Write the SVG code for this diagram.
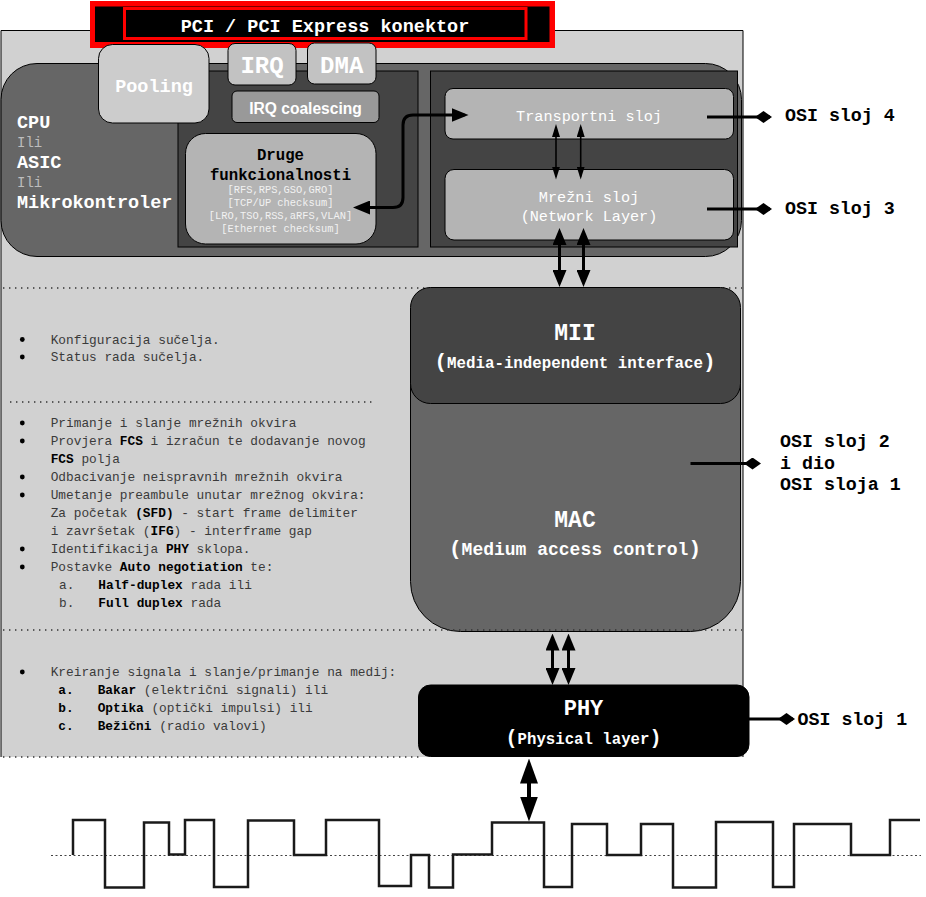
<svg xmlns="http://www.w3.org/2000/svg" width="926" height="897" viewBox="0 0 926 897">
<style>
.m{font-family:"Liberation Mono","Courier New",monospace}
.s{font-family:"Liberation Sans",Arial,sans-serif}
.b{font-weight:bold}
.w{fill:#ffffff}
.k{fill:#000000}
.lst{font-family:"Liberation Mono","Courier New",monospace;font-size:12.8px;fill:#3a3a3a}
.lst .bd{font-weight:bold;fill:#000}
.dot{stroke:#333;stroke-width:1.4;stroke-dasharray:1.4 4.6;fill:none}
.box{stroke:#000;stroke-width:1}
.osi{font-family:"Liberation Mono","Courier New",monospace;font-size:18.3px;font-weight:bold;fill:#000}
.cn{fill:none;stroke:#000}
</style>
<defs>
<marker id="ab" markerUnits="userSpaceOnUse" markerWidth="17" markerHeight="14" refX="13" refY="7" orient="auto-start-reverse"><path d="M0,0 L17,7 L0,14 z" fill="#000"/></marker>
<marker id="as" markerUnits="userSpaceOnUse" markerWidth="13" markerHeight="8" refX="10" refY="4" orient="auto-start-reverse"><path d="M0,0 L13,4 L0,8 z" fill="#000"/></marker>
<marker id="ah" markerUnits="userSpaceOnUse" markerWidth="25" markerHeight="18" refX="19" refY="9" orient="auto-start-reverse"><path d="M0,0 L25,9 L0,18 z" fill="#000"/></marker>
<marker id="dm" markerUnits="userSpaceOnUse" markerWidth="17" markerHeight="12" refX="15" refY="6" orient="auto"><path d="M0,6 L8.5,0 L17,6 L8.5,12 z" fill="#000"/></marker>
</defs>

<!-- outer panel -->
<g id="panel">
<rect x="1" y="30.5" width="742" height="726.5" fill="#d1d1d1"/>
<path d="M1,757 V30.5 H743 V757" fill="none" stroke="#000" stroke-width="1"/>
</g>

<!-- PCI connector -->
<g id="pci">
<rect x="90" y="1" width="465" height="47" fill="#ff0000"/>
<rect x="95" y="6.5" width="454.5" height="35.5" fill="#000"/>
<rect x="124.5" y="8.5" width="401.5" height="30" fill="none" stroke="#ff0000" stroke-width="3"/>
<text x="325" y="32" text-anchor="middle" class="m b w" font-size="18.5">PCI / PCI Express konektor</text>
</g>

<!-- CPU block -->
<g id="cpu">
<rect x="1" y="63.5" width="740.5" height="193" rx="36" ry="36" fill="#666666" class="box"/>
<text class="m b w" font-size="18.5" x="17" y="128">CPU</text>
<text class="m" font-size="14" fill="#bdbdbd" x="17" y="146.5">Ili</text>
<text class="m b w" font-size="18.5" x="17" y="168">ASIC</text>
<text class="m" font-size="14" fill="#bdbdbd" x="17" y="186.5">Ili</text>
<text class="m b w" font-size="18.5" x="17" y="208">Mikrokontroler</text>
</g>
<g id="innerLeft"><rect x="178" y="71" width="240" height="176" fill="#444444" class="box"/></g>
<g id="innerRight"><rect x="430.5" y="71" width="307" height="176" fill="#444444" class="box"/></g>

<g id="pooling">
<rect x="98.5" y="44.5" width="110.5" height="78.5" rx="14" fill="#cccccc" class="box"/>
<text x="154" y="92" text-anchor="middle" class="m b w" font-size="18.5">Pooling</text>
</g>
<g id="irq">
<rect x="228" y="43.5" width="68" height="41.5" rx="7" fill="#c2c2c2" class="box"/>
<text x="262" y="73" text-anchor="middle" class="m b w" font-size="24">IRQ</text>
</g>
<g id="dma">
<rect x="307.5" y="43" width="68.5" height="41" rx="7" fill="#c2c2c2" class="box"/>
<text x="341.7" y="72.5" text-anchor="middle" class="m b w" font-size="24">DMA</text>
</g>
<g id="irqc">
<rect x="232" y="91" width="147" height="31.5" rx="5" fill="#999999" class="box"/>
<text x="305.5" y="114" text-anchor="middle" class="s b w" font-size="15.6">IRQ coalescing</text>
</g>
<g id="druge">
<rect x="185.5" y="133.5" width="190.5" height="110.5" rx="20" fill="#b4b4b4" class="box"/>
<text x="280.5" y="160" text-anchor="middle" class="m b k" font-size="15.7">Druge</text>
<text x="280.5" y="180" text-anchor="middle" class="m b k" font-size="15.7">funkcionalnosti</text>
<g class="m" font-size="10.4" fill="#f2f2f2" text-anchor="middle">
<text x="280.5" y="193">[RFS,RPS,GSO,GRO]</text>
<text x="280.5" y="206">[TCP/UP checksum]</text>
<text x="280.5" y="219">[LRO,TSO,RSS,aRFS,VLAN]</text>
<text x="280.5" y="232">[Ethernet checksum]</text>
</g>
</g>
<g id="transport">
<rect x="445" y="88.5" width="288.5" height="50.5" rx="8" fill="#b4b4b4" class="box"/>
<text x="589" y="120.5" text-anchor="middle" class="m w" font-size="15.2">Transportni sloj</text>
</g>
<g id="mrezni">
<rect x="445" y="169.5" width="288.5" height="70.5" rx="9" fill="#b4b4b4" class="box"/>
<text x="589" y="201.5" text-anchor="middle" class="m w" font-size="15.2">Mrežni sloj</text>
<text x="589" y="221" text-anchor="middle" class="m w" font-size="15.2">(Network Layer)</text>
</g>

<!-- dotted separators (behind MAC/MII) -->
<line class="dot" x1="3" y1="288" x2="742" y2="288"/>
<line class="dot" x1="10" y1="402" x2="373" y2="402"/>

<!-- MAC + MII -->
<g id="mac">
<rect x="410.5" y="287.5" width="330" height="344" rx="50" ry="50" fill="#666666" class="box"/>
<text x="575" y="527" text-anchor="middle" class="m b w" font-size="23">MAC</text>
<text x="575" y="555" text-anchor="middle" class="m b w" font-size="18"><tspan font-size="21">(</tspan>Medium access control<tspan font-size="21">)</tspan></text>
</g>
<g id="mii">
<rect x="410.5" y="287.5" width="330" height="116" rx="20" ry="20" fill="#444444" class="box"/>
<text x="575" y="340" text-anchor="middle" class="m b w" font-size="23">MII</text>
<text x="575" y="368" text-anchor="middle" class="m b w" font-size="15.8"><tspan font-size="21">(</tspan>Media-independent interface<tspan font-size="21">)</tspan></text>
</g>

<line class="dot" x1="3" y1="630" x2="742" y2="630"/>
<line class="dot" x1="3" y1="757" x2="420" y2="757"/>

<g id="phy">
<rect x="418.5" y="685" width="330.5" height="71.5" rx="12" fill="#000000" class="box"/>
<text x="583.5" y="715" text-anchor="middle" class="m b w" font-size="22">PHY</text>
<text x="583.5" y="744" text-anchor="middle" class="m b w" font-size="15.7"><tspan font-size="20">(</tspan>Physical layer<tspan font-size="20">)</tspan></text>
</g>

<!-- left lists -->
<g id="lists" class="lst">
<g fill="#000">
<circle cx="22.3" cy="339.5" r="2.4"/><circle cx="22.3" cy="357" r="2.4"/>
<circle cx="22.3" cy="423" r="2.4"/><circle cx="22.3" cy="441" r="2.4"/><circle cx="22.3" cy="477" r="2.4"/><circle cx="22.3" cy="495" r="2.4"/><circle cx="22.3" cy="549" r="2.4"/><circle cx="22.3" cy="567" r="2.4"/>
<circle cx="22.3" cy="672" r="2.4"/>
</g>
<text x="50.7" y="343.5">Konfiguracija sučelja.</text>
<text x="50.7" y="361">Status rada sučelja.</text>
<text x="50.7" y="427">Primanje i slanje mrežnih okvira</text>
<text x="50.7" y="445">Provjera <tspan class="bd">FCS</tspan> i izračun te dodavanje novog</text>
<text x="50.7" y="463"><tspan class="bd">FCS</tspan> polja</text>
<text x="50.7" y="481">Odbacivanje neispravnih mrežnih okvira</text>
<text x="50.7" y="499">Umetanje preambule unutar mrežnog okvira:</text>
<text x="50.7" y="517">Za početak <tspan class="bd">(SFD)</tspan> - start frame delimiter</text>
<text x="50.7" y="535">i završetak (<tspan class="bd">IFG</tspan>) - interframe gap</text>
<text x="50.7" y="553">Identifikacija <tspan class="bd">PHY</tspan> sklopa.</text>
<text x="50.7" y="571">Postavke <tspan class="bd">Auto negotiation</tspan> te:</text>
<text x="59" y="589">a.<tspan x="98.3" class="bd">Half-duplex</tspan> rada ili</text>
<text x="59" y="607">b.<tspan x="98.3" class="bd">Full duplex</tspan> rada</text>
<text x="50.7" y="676">Kreiranje signala i slanje/primanje na medij:</text>
<text x="58.3" y="694"><tspan class="bd">a.</tspan><tspan x="97.7" class="bd">Bakar</tspan> (električni signali) ili</text>
<text x="58.3" y="712"><tspan class="bd">b.</tspan><tspan x="97.7" class="bd">Optika</tspan> (optički impulsi) ili</text>
<text x="58.3" y="730"><tspan class="bd">c.</tspan><tspan x="97.7" class="bd">Bežični</tspan> (radio valovi)</text>
</g>

<!-- OSI labels -->
<g id="osi">
<text class="osi" x="785" y="121">OSI sloj 4</text>
<text class="osi" x="785" y="214">OSI sloj 3</text>
<text class="osi" x="780" y="447">OSI sloj 2</text>
<text class="osi" x="780" y="468.5">i dio</text>
<text class="osi" x="780" y="490">OSI sloja 1</text>
<text class="osi" x="797.5" y="725">OSI sloj 1</text>
</g>

<!-- waveform -->
<g id="signal">
<line x1="51" y1="855.5" x2="921" y2="855.5" stroke="#444" stroke-width="1" stroke-dasharray="2 2.5"/>
<polyline fill="none" stroke="#1a1a1a" stroke-width="2.5" points="73,855 73,820 105,820 105,887.5 144,887.5 144,822.5 169,822.5 169,854.5 185,854.5 185,820 214,820 214,887 248,887 248,820.5 294,820.5 294,855 326,855 326,820 379,820 379,886 411,886 411,855 429,855 429,887.5 453,887.5 453,854.5 492,854.5 492,822.5 544,822.5 544,887 572,887 572,824 607,824 607,855 641,855 641,824 673,824 673,887.5 716,887.5 716,822 773,822 773,887 794,887 794,824 851,824 851,855 890,855 890,820 920,820"/>
</g>

<!-- connectors -->
<g id="connectors">
<path class="cn" stroke-width="3" d="M357,207.5 H393 Q403,207.5 403,197.5 V125 Q403,115 413,115 H464.5" marker-start="url(#ab)" marker-end="url(#ab)"/>
<line class="cn" stroke-width="1.6" x1="556" y1="127" x2="556" y2="176.5" marker-start="url(#as)" marker-end="url(#as)"/>
<line class="cn" stroke-width="1.6" x1="580.7" y1="127" x2="580.7" y2="176.5" marker-start="url(#as)" marker-end="url(#as)"/>
<line class="cn" stroke-width="3" x1="559.5" y1="232" x2="559.5" y2="283" marker-start="url(#ab)" marker-end="url(#ab)"/>
<line class="cn" stroke-width="3" x1="583.5" y1="232" x2="583.5" y2="283" marker-start="url(#ab)" marker-end="url(#ab)"/>
<line class="cn" stroke-width="3" x1="552.5" y1="637.5" x2="552.5" y2="681" marker-start="url(#ab)" marker-end="url(#ab)"/>
<line class="cn" stroke-width="3" x1="568.5" y1="637.5" x2="568.5" y2="681" marker-start="url(#ab)" marker-end="url(#ab)"/>
<line class="cn" stroke-width="4" x1="529" y1="764.5" x2="529" y2="815.5" marker-start="url(#ah)" marker-end="url(#ah)"/>
<line class="cn" stroke-width="3" x1="707" y1="117" x2="770" y2="117" marker-end="url(#dm)"/>
<line class="cn" stroke-width="3" x1="707" y1="209" x2="770" y2="209" marker-end="url(#dm)"/>
<line class="cn" stroke-width="3" x1="690.5" y1="463.5" x2="759" y2="463.5" marker-end="url(#dm)"/>
<line class="cn" stroke-width="3" x1="749" y1="719" x2="793" y2="719" marker-end="url(#dm)"/>
</g>
</svg>
